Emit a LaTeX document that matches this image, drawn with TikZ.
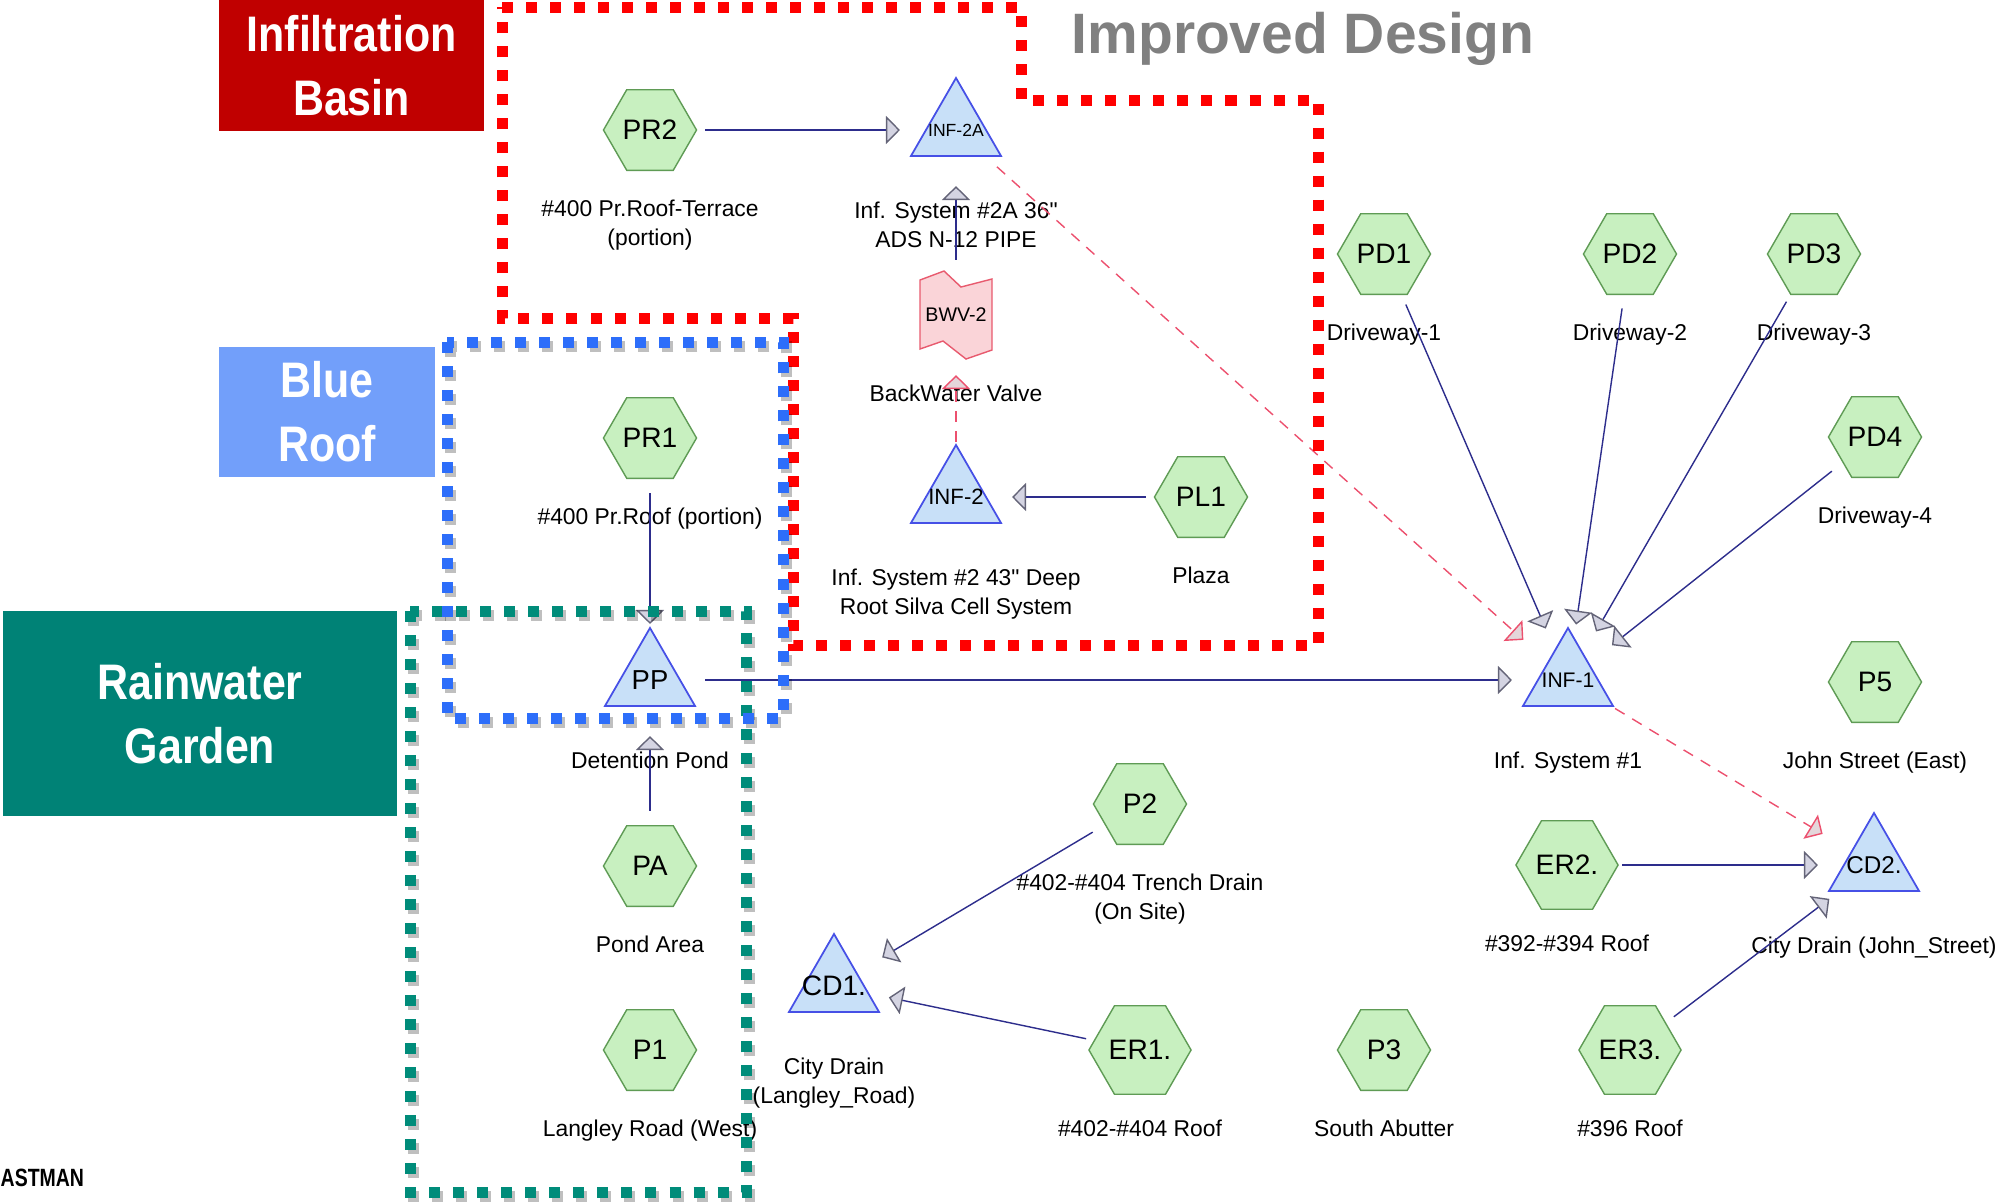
\documentclass[tikz,border=0pt]{standalone}
\usepackage{fontspec}
\setmainfont{Liberation Sans}
\newfontfamily\tagfont{Liberation Sans}[FakeStretch=0.86]
\newfontfamily\logofont{Liberation Sans}[FakeStretch=0.78]
\newcommand\inchmark{\XeTeXglyph\XeTeXcharglyph"22\relax}
\usepackage{tikz}
\usetikzlibrary{calc,shapes.geometric,arrows.meta}

\definecolor{infred}{RGB}{192,0,0}
\definecolor{roofblue}{RGB}{114,159,250}
\definecolor{gardenteal}{RGB}{0,130,118}
\definecolor{dotred}{RGB}{255,0,0}
\definecolor{dotblue}{RGB}{45,110,250}
\definecolor{dotteal}{RGB}{0,140,122}
\definecolor{hexfill}{RGB}{200,240,192}
\definecolor{hexedge}{RGB}{95,155,85}
\definecolor{trifill}{RGB}{200,224,248}
\definecolor{triedge}{RGB}{70,80,230}
\definecolor{valvefill}{RGB}{250,212,216}
\definecolor{valveedge}{RGB}{232,90,110}
\definecolor{flowline}{RGB}{45,45,140}
\definecolor{tipfill}{RGB}{212,212,226}
\definecolor{tipedge}{RGB}{100,100,120}
\definecolor{dashred}{RGB}{236,80,110}
\definecolor{redtipfill}{RGB}{228,214,218}
\definecolor{titlegray}{RGB}{128,128,128}

\begin{document}
\begin{tikzpicture}[x=0.01cm,y=-0.01cm,
  hexnode/.style={regular polygon,regular polygon sides=6,minimum size=0.93cm,inner sep=0pt,
    draw=hexedge,fill=hexfill,line width=0.4pt,font=\fontsize{8}{9}\selectfont},
  trinode/.style={regular polygon,regular polygon sides=3,minimum size=1.04cm,inner sep=0pt,
    draw=triedge,fill=trifill,line width=0.5pt},
  tritext/.style={inner sep=0pt},
  lbl/.style={anchor=north,inner sep=0pt,align=center,font=\fontsize{6.5}{8.2}\selectfont},
  flow/.style={draw=flowline,line width=0.4pt,shorten <=0.55cm,shorten >=0.56cm,
    -{Triangle[length=0.14cm,width=0.28cm,fill=tipfill,color=tipedge]}},
  overflow/.style={flow,draw=dashred,dash pattern=on 0.11cm off 0.09cm,shorten >=0.6cm,
    -{Triangle[length=0.14cm,width=0.28cm,fill=redtipfill,color=dashred]}},
  valve/.style={draw=valveedge,fill=valvefill,line width=0.4pt},
  dotbox/.style={line width=0.11cm,dash pattern=on 0.11cm off 0.13cm},
  tagbox/.style={inner sep=0pt,text=white,align=center,
    font=\tagfont\bfseries\fontsize{14.2}{18.2}\selectfont}]
\useasboundingbox (0,0) rectangle (2008,1202);

% Subcatchments
\foreach \n/\x/\y/\t/\l in {
  pr2/650/130/PR2/{\#400 Pr.Roof-Terrace\\(portion)},
  pr1/650/438/PR1/{\#400 Pr.Roof (portion)},
  pa/650/866/PA/{Pond Area},
  p1/650/1050/P1/{Langley Road (West)},
  pl1/1201/497/PL1/{Plaza},
  pd1/1384/254/PD1/{Driveway-1},
  pd2/1630/254/PD2/{Driveway-2},
  pd3/1814/254/PD3/{Driveway-3},
  pd4/1875/437/PD4/{Driveway-4},
  p5/1875/682/P5/{John Street (East)},
  p2/1140/804/P2/{\#402-\#404 Trench Drain\\(On Site)},
  er2/1567/865/ER2./{\#392-\#394 Roof},
  er1/1140/1050/ER1./{\#402-\#404 Roof},
  p3/1384/1050/P3/{South Abutter},
  er3/1630/1050/ER3./{\#396 Roof}} {
  \node[hexnode] (\n) at (\x,\y) {\t};
  \node[lbl] (\n-lbl) at ($(\n)+(0,69)$) {\l};
}

% Ponds
\foreach \n/\x/\y/\t/\s/\l in {
  inf2a/956/130/INF-2A/5/{Inf. System \#2A 36\inchmark\\ADS N-12 PIPE},
  inf2/956/497/INF-2/6.3/{Inf. System \#2 43\inchmark\ Deep\\Root Silva Cell System},
  pp/650/680/PP/7.8/{Detention Pond},
  inf1/1568/680/INF-1/6/{Inf. System \#1},
  cd2/1874/865/CD2./6.9/{City Drain (John\_Street)},
  cd1/834/986/CD1./8/{City Drain\\(Langley\_Road)}} {
  \node[trinode,label={[tritext,font=\fontsize{\s}{\s}\selectfont]center:\t}] (\n) at (\x,\y) {};
  \node[lbl] (\n-lbl) at ($(\n)+(0,71)$) {\l};
}

% Backwater valve
\coordinate (bwvc) at (956,315);
\draw[valve] ($(bwvc)+(-36,-35)$) -- ($(bwvc)+(-12,-44)$) -- ($(bwvc)+(5,-28)$)
  -- ($(bwvc)+(36,-36)$) -- ($(bwvc)+(36,35)$) -- ($(bwvc)+(10,44)$)
  -- ($(bwvc)+(-13,26)$) -- ($(bwvc)+(-36,34)$) -- cycle;
\node[inner sep=0pt,font=\fontsize{5.6}{6}\selectfont] (bwv) at (bwvc) {BWV-2};
\node[lbl] (bwv-lbl) at ($(bwvc)+(0,69)$) {BackWater Valve};

% Routing
\draw[flow] (pr2.center) -- (inf2a.center);
\draw[flow] (bwv.center) -- (inf2a.center);
\draw[overflow] (inf2.center) -- (bwv.center);
\draw[flow] (pl1.center) -- (inf2.center);
\draw[overflow] (inf2a.center) -- (inf1.center);
\draw[flow] (pr1.center) -- (pp.center);
\draw[flow] (pa.center) -- (pp.center);
\draw[flow] (pp.center) -- (inf1.center);
\foreach \d in {pd1,pd2,pd3,pd4} {
  \draw[flow] (\d.center) -- (inf1.center);
}
\draw[overflow] (inf1.center) -- (cd2.center);
\draw[flow] (er2.center) -- (cd2.center);
\draw[flow] (er3.center) -- (cd2.center);
\draw[flow] (p2.center) -- (cd1.center);
\draw[flow] (er1.center) -- (cd1.center);

% Dotted zones
\draw[dotbox,draw=dotred] (502,7) -- (1021,7) -- (1021,100) -- (1318,100) -- (1318,645)
  -- (793,645) -- (793,318) -- (502,318) -- cycle;
\draw[dotbox,draw=black,opacity=0.25,shift={(3,4)}] (410,611) rectangle (746,1192);
\draw[dotbox,draw=dotteal] (410,611) rectangle (746,1192);
\draw[dotbox,draw=black,opacity=0.25,shift={(3,4)}] (447,342) rectangle (783,718);
\draw[dotbox,draw=dotblue] (447,342) rectangle (783,718);

% Zone tags
\node[tagbox,fill=infred,minimum width=2.65cm,minimum height=1.31cm] (tag-inf) at (351.5,65.5) {Infiltration\\Basin};
\node[tagbox,fill=roofblue,minimum width=2.16cm,minimum height=1.30cm] (tag-roof) at (327,412) {Blue\\Roof};
\node[tagbox,fill=gardenteal,minimum width=3.94cm,minimum height=2.05cm] (tag-garden) at (200,713.5) {Rainwater\\Garden};

% Title and logo
\node[anchor=base west,inner sep=0pt,text=titlegray,font=\bfseries\fontsize{16.2}{18}\selectfont] (title) at (1071,53) {Improved Design};
\node[anchor=base west,inner sep=0pt,font=\logofont\bfseries\fontsize{7.1}{8}\selectfont] (logo) at (0,1186) {ASTMAN};

\end{tikzpicture}
\end{document}
